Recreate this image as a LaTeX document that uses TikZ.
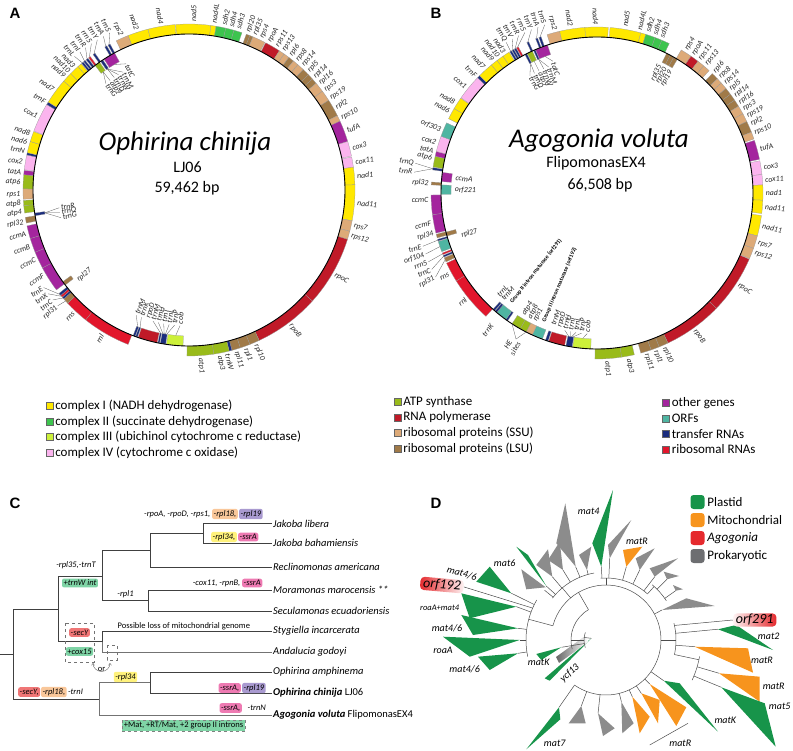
\documentclass[tikz,border=0pt]{standalone}
\usepackage{fontspec}
\setmainfont{Carlito}
\newfontfamily\panelfont{Liberation Sans}
\usetikzlibrary{positioning,arrows.meta}

% gene classes
\definecolor{cI}{HTML}{FFE800}
\definecolor{cII}{HTML}{3DC44E}
\definecolor{cIII}{HTML}{CCF03A}
\definecolor{cIV}{HTML}{FBB4EE}
\definecolor{atp}{HTML}{99BB1A}
\definecolor{rnap}{HTML}{C01A28}
\definecolor{ssu}{HTML}{DDAA78}
\definecolor{lsu}{HTML}{A07A48}
\definecolor{oth}{HTML}{A4259E}
\definecolor{orf}{HTML}{4FB5A2}
\definecolor{trna}{HTML}{1B2D7E}
\definecolor{rrna}{HTML}{E2162C}
% tree tags
\definecolor{tOrange}{HTML}{F9C79A}
\definecolor{tPurple}{HTML}{A99AD0}
\definecolor{tYellow}{HTML}{FFF27C}
\definecolor{tPink}{HTML}{EE7AB2}
\definecolor{tGreen}{HTML}{7FD4A6}
\definecolor{tRed}{HTML}{F07676}
% maturase tree
\definecolor{dGreen}{HTML}{17944A}
\definecolor{dOrange}{HTML}{F7941D}
\definecolor{dRed}{HTML}{E52A2E}
\definecolor{dGray}{HTML}{8C8C8C}
\definecolor{dGrayL}{HTML}{6D6E71}

\newcounter{glc}
\newcommand{\Rin}{146}
\newcommand{\Rmid}{156}
\newcommand{\Rout}{166}
% gene block outside / inside the ring
\newcommand{\gout}[3]{\path[genebox, fill=#3] (#1:\Rmid pt) arc[start angle=#1, end angle=#2, radius=\Rmid pt]
  -- (#2:\Rout pt) arc[start angle=#2, end angle=#1, radius=\Rout pt] -- cycle;}
\newcommand{\gin}[3]{\path[genebox, fill=#3] (#1:\Rin pt) arc[start angle=#1, end angle=#2, radius=\Rin pt]
  -- (#2:\Rmid pt) arc[start angle=#2, end angle=#1, radius=\Rmid pt] -- cycle;}
% radial labels: angle, radius, text
\newcommand{\lout}[3]{\stepcounter{glc}%
  \pgfmathtruncatemacro\lflip{cos(#1)<0}%
  \ifnum\lflip=1
    \node[genelabel, anchor=east, rotate=#1-180] (gl\arabic{glc}) at (#1:#2pt) {#3};%
  \else
    \node[genelabel, anchor=west, rotate=#1] (gl\arabic{glc}) at (#1:#2pt) {#3};%
  \fi}
\newcommand{\lin}[3]{\stepcounter{glc}%
  \pgfmathtruncatemacro\lflip{cos(#1)<0}%
  \ifnum\lflip=1
    \node[genelabel, anchor=west, rotate=#1-180] (gl\arabic{glc}) at (#1:#2pt) {#3};%
  \else
    \node[genelabel, anchor=east, rotate=#1] (gl\arabic{glc}) at (#1:#2pt) {#3};%
  \fi}
\newcommand{\lead}[4]{\draw[leader] (#1:#2pt) -- (#3:#4pt);}

\tikzset{
  genebox/.style={draw=black!40, line width=0.25pt},
  ring/.style={line width=0.9pt},
  genelabel/.style={font=\fontsize{7.8}{8}\selectfont\itshape, inner sep=0.6pt, text=black!85},
  leader/.style={draw=black!65, line width=0.3pt},
  title/.style={font=\fontsize{27}{30}\selectfont\itshape},
  subtitle/.style={font=\fontsize{16}{18}\selectfont},
  panel/.style={font=\panelfont\bfseries\fontsize{15}{16}\selectfont},
  legsq/.style={draw=black!60, line width=0.3pt, minimum size=7pt, inner sep=0pt},
  legtext/.style={font=\fontsize{13}{14}\selectfont, inner sep=1pt, anchor=west},
  branch/.style={draw=black!75, line width=0.6pt},
  taxon/.style={anchor=west, font=\fontsize{10.5}{12}\selectfont\itshape, inner sep=1pt},
  annot/.style={font=\fontsize{8.5}{10}\selectfont\itshape, inner sep=0.5pt},
  plainnote/.style={font=\fontsize{8.5}{10}\selectfont, inner sep=0.5pt},
  tagbox/.style={annot, rounded corners=2pt, inner xsep=1.5pt, inner ysep=1.5pt},
  orarc/.style={draw=black!60, line width=0.4pt, arrows={Straight Barb[length=2pt,width=3pt]-Straight Barb[length=2pt,width=3pt]}},
  grptext/.style={font=\fontsize{5.8}{6}\selectfont\bfseries, inner sep=0.5pt},
  dtree/.style={color=black!70, line width=0.5pt},
  dlab/.style={font=\fontsize{10}{12}\selectfont\itshape, inner sep=1pt},
  orfbox/.style={font=\fontsize{14}{15}\selectfont\itshape, rounded corners=4pt, inner xsep=3pt, inner ysep=1pt},
  dkey/.style={minimum size=14pt, rounded corners=3pt, inner sep=0pt},
  dkeytext/.style={font=\fontsize{13}{14}\selectfont, inner sep=1pt, anchor=west},
}

\begin{document}
\begin{tikzpicture}[x=1pt, y=1pt]
\useasboundingbox (0,0) rectangle (793,-751);

\node[panel] (pA) at (15,-13) {A};
\node[panel] (pB) at (436,-13) {B};
\node[panel] (pC) at (15,-503) {C};
\node[panel] (pD) at (436,-503) {D};

% ---------- A: Ophirina chinija ----------
\begin{scope}[shift={(189,-190)}]
  \gout{120.5}{119.7}{trna} \gout{119.2}{118.4}{trna}
  \gout{116}{111.5}{ssu} \gout{111.5}{104.3}{cI} \gout{104.3}{94.8}{cI}
  \gout{94.6}{82.4}{cI} \gout{82.4}{80.6}{cI}
  \gout{80.6}{77.2}{cII} \gout{77.2}{74.3}{cII} \gout{74.3}{71.4}{cII}
  \gout{69.8}{68.5}{lsu} \gout{68.5}{67.3}{lsu} \gout{67.3}{62.8}{ssu}
  \gout{62.5}{57}{rnap}
  \gout{57}{55}{ssu} \gout{55}{53}{ssu} \gout{53}{51}{lsu} \gout{51}{49}{ssu}
  \gout{49}{46.5}{ssu} \gout{46.5}{44}{lsu} \gout{44}{42}{lsu} \gout{42}{40}{lsu}
  \gout{40}{36.5}{ssu} \gout{36.5}{32.7}{ssu} \gout{32.7}{26.6}{lsu} \gout{26.6}{24.5}{ssu}
  \gout{24.5}{17}{oth} \gout{17}{11.8}{cIV} \gout{11.5}{7.9}{cIV}
  \gout{7.9}{1.8}{cI} \gout{1.8}{-10.7}{cI}
  \gout{-10.7}{-14.4}{ssu} \gout{-14.4}{-17.3}{ssu}
  \gout{-17.3}{-42}{rnap} \gout{-42}{-65}{rnap}
  \gout{-65}{-68.5}{lsu} \gout{-68.5}{-72}{lsu} \gout{-72}{-75}{lsu}
  \gout{-75}{-76}{trna} \gout{-76}{-81.4}{atp} \gout{-81.4}{-90.7}{atp}
  \gin{-92.2}{-98.3}{cIII} \gin{-98.6}{-100.6}{trna} \gin{-100.9}{-101.5}{trna}
  \gin{-101.8}{-109}{rnap} \gin{-109.3}{-110}{trna} \gin{-110.2}{-111}{trna}
  \gout{-111.5}{-128.5}{rrna} \gout{-128.5}{-137}{rrna}
  \gout{-137}{-139}{lsu} \gout{-139}{-139.8}{trna} \gout{-139.8}{-140.6}{rrna} \gout{-140.6}{-141.5}{trna}
  \gin{-142.5}{-144}{lsu}
  \gout{-143}{-152}{oth} \gout{-152}{-158}{oth} \gout{-158}{-163}{oth} \gout{-163}{-167.5}{oth}
  \gout{-168.5}{-170.5}{lsu} \gin{-170.5}{-171.5}{trna}
  \gout{-172}{-174.6}{atp} \gout{-174.6}{-176.4}{atp} \gout{-176.8}{-180.4}{ssu}
  \gout{-180.4}{-185.3}{atp} \gout{-185.3}{-186.8}{oth} \gout{-187}{-192.2}{cIV}
  \gout{-192.2}{-193}{trna} \gout{-193}{-197}{cI} \gout{-197}{-200.6}{cI}
  \gout{-200.8}{-211}{cIV} \gout{-211}{-212}{trna}
  \gout{148}{139}{cI} \gout{139}{135.5}{cI} \gout{135.5}{132}{cI} \gout{132}{130.5}{cI}
  \gout{130.3}{129.6}{trna} \gout{129.4}{128.7}{trna} \gout{128.3}{127.5}{trna}
  \gout{127.2}{126.5}{rrna} \gout{125.3}{124.5}{trna}
  \gin{127}{125}{atp} \gin{124.5}{123.5}{trna} \gin{123}{118.5}{oth}
  \draw[ring] (0,0) circle[radius=\Rmid pt];
  % labels round the top and the right
  \lout{137.5}{168}{nad9} \lout{135.2}{168}{nad10} \lout{132.9}{168}{nad3}
  \lead{130}{166}{130.6}{176} \lout{130.6}{177}{trnL}
  \lead{129}{166}{128.3}{176} \lout{128.3}{177}{trnI}
  \lead{127.9}{166}{126}{176} \lout{126}{177}{trnR}
  \lead{126.9}{166}{123.7}{176} \lout{123.7}{177}{rrn5}
  \lead{124.9}{166}{121.4}{176} \lout{121.4}{177}{trnY}
  \lead{120.1}{166}{119.1}{176} \lout{119.1}{177}{trnA}
  \lead{118.8}{166}{116.8}{176} \lout{116.8}{177}{trnS}
  \lout{113.8}{168}{rps2} \lout{108}{168}{nad2} \lout{99.5}{168}{nad4} \lout{88.5}{168}{nad5}
  \lout{81.5}{168}{nad4L} \lout{78}{168}{sdh2} \lout{75.5}{168}{sdh4} \lout{73}{168}{sdh3}
  \lout{69.5}{168}{rpl20} \lout{67}{168}{rpl35} \lout{64.5}{168}{rps4} \lout{61.5}{168}{rpoA}
  \lout{58.5}{168}{rps11} \lout{55.8}{168}{rps13} \lout{53}{168}{rpl6} \lout{50.2}{168}{rps8}
  \lout{47.5}{168}{rps14} \lout{44.8}{168}{rpl5} \lout{42}{168}{rpl14} \lout{39.3}{168}{rpl16}
  \lout{36.3}{168}{rps3} \lout{33}{168}{rps19} \lout{29.3}{168}{rpl2} \lout{25.3}{168}{rps10}
  \lout{20.5}{168}{tufA} \lout{14.4}{168}{cox3} \lout{9.5}{168}{cox11} \lout{4.8}{168}{nad1}
  \lout{-4.5}{168}{nad11} \lout{-12.3}{168}{rps7} \lout{-15.8}{168}{rps12}
  \lout{-30}{168}{rpoC} \lout{-53}{168}{rpoB}
  \lout{-66.5}{168}{rpl10} \lout{-70.2}{168}{rpl1} \lout{-73.5}{168}{rpl11} \lout{-76.8}{168}{trnW}
  \lout{-79.5}{168}{atp3} \lout{-86}{168}{atp1}
  % labels round the bottom and the left
  \lout{-121}{168}{rnl} \lout{-133}{168}{rns}
  \lead{-138}{166}{-138.6}{175} \lout{-138.6}{176}{rpl31}
  \lead{-139.4}{166}{-141.1}{175} \lout{-141.1}{176}{trnC}
  \lead{-140.2}{166}{-143.6}{175} \lout{-143.6}{176}{trnX}
  \lead{-141}{166}{-146.1}{175} \lout{-146.1}{176}{trnE}
  \lout{-149.5}{168}{ccmF} \lout{-155.5}{168}{ccmC} \lout{-160.5}{168}{ccmB} \lout{-165}{168}{ccmA}
  \lout{-169}{168}{rpl32} \lout{-172.3}{168}{atp4} \lout{-175.4}{168}{atp8} \lout{-178.5}{168}{rps1}
  \lout{-182.6}{168}{atp6} \lout{-186}{168}{tatA} \lout{-189.5}{168}{cox2} \lout{-193.2}{168}{trnN}
  \lout{-196.4}{168}{nad6} \lout{-199.6}{168}{nad8} \lout{-206}{168}{cox1} \lout{-211.5}{168}{trnF}
  \lout{-216.5}{168}{nad7}
  % labels inside the ring
  \lead{-95.2}{146}{-93.8}{136} \lin{-93.8}{135}{cob}
  \lead{-98.8}{146}{-96.1}{136} \lin{-96.1}{135}{trnP}
  \lead{-99.3}{146}{-98.4}{136} \lin{-98.4}{135}{trnL}
  \lead{-99.8}{146}{-100.7}{136} \lin{-100.7}{135}{trnT}
  \lead{-100.3}{146}{-103}{136} \lin{-103}{135}{trnH}
  \lead{-101.2}{146}{-105.3}{136} \lin{-105.3}{135}{trnM}
  \lin{-107.6}{135}{rpoD}
  \lead{-109.6}{146}{-110.5}{136} \lin{-110.5}{135}{trnK}
  \lead{-110.6}{146}{-112.8}{136} \lin{-112.8}{135}{trnM}
  \lin{-141}{144}{rpl27}
  \lead{-171}{146}{-172.2}{131} \lin{-172.2}{130}{trnR}
  \lead{-171}{146}{-170}{131} \lin{-170}{130}{trnQ}
  \lead{-171}{146}{-167.8}{131} \lin{-167.8}{130}{trnG}
  \lead{120.7}{146}{116.5}{141} \lin{116.5}{140}{tatC}
  \lead{124}{146}{119.2}{135} \lin{119.2}{134}{trnM}
  \lead{124}{146}{121.4}{135} \lin{121.4}{134}{trnW}
  \lead{124}{146}{123.6}{135} \lin{123.6}{134}{trnD}
  \lead{126}{146}{125.8}{135} \lin{125.8}{134}{atp9}
  \lead{126}{146}{128}{135} \lin{128}{134}{trnG}
  \node[title] (tA) at (-4,47) {Ophirina chinija};
  \node[subtitle] (sA) at (-1.5,23) {LJ06};
  \node[subtitle] (bA) at (-2,2) {59,462 bp};
\end{scope}

% ---------- B: Agogonia voluta ----------
\begin{scope}[shift={(597,-193)}]
  \gout{107.5}{103}{ssu} \gout{103}{94.2}{cI} \gout{94.2}{86.1}{cI}
  \gout{85.5}{74.7}{cI} \gout{74.7}{72.9}{cI}
  \gout{72.9}{69.5}{cII} \gout{69.5}{67}{cII} \gout{67}{64.2}{cII}
  \gin{63.5}{62}{lsu} \gin{62}{60.5}{lsu} \gin{60.5}{59}{lsu}
  \gout{59.5}{55.5}{ssu} \gout{55.5}{52.5}{rnap} \gout{52.5}{50}{ssu} \gout{50}{47.5}{ssu}
  \gout{46}{43.5}{lsu} \gout{43.5}{41.5}{ssu} \gout{41.5}{39}{ssu} \gout{39}{36.5}{lsu}
  \gout{36.5}{34}{lsu} \gout{34}{31.5}{lsu} \gout{31.5}{28.5}{ssu} \gout{28.5}{25.5}{ssu}
  \gout{25.5}{21.5}{lsu} \gout{21.5}{19}{ssu}
  \gout{18.5}{11.7}{oth} \gout{11.2}{6.4}{cIV} \gout{6.4}{2.8}{cIV}
  \gout{2.8}{-2.5}{cI} \gout{-2.5}{-7.1}{cI} \gout{-7.8}{-15}{cI}
  \gout{-15}{-19.5}{ssu} \gout{-19.5}{-23.3}{ssu}
  \gout{-23.5}{-44}{rnap} \gout{-44}{-64.7}{rnap}
  \gout{-64.7}{-68}{lsu} \gout{-68}{-71}{lsu} \gout{-71}{-74.7}{lsu}
  \gout{-77}{-81.5}{atp} \gout{-81.5}{-90.7}{atp}
  \gin{-92.3}{-99}{cIII} \gin{-99.2}{-101.5}{trna} \gin{-102}{-108}{rnap} \gin{-108.3}{-109.3}{trna}
  \gin{-110.5}{-114.5}{orf} \gin{-114.5}{-117}{ssu} \gin{-117}{-119.5}{atp} \gin{-119.5}{-123}{atp}
  \gin{-125}{-125.8}{trna} \gin{-125.8}{-130}{orf} \gin{-130}{-130.8}{trna} \gin{-131}{-131.8}{trna}
  \gout{-132}{-148}{rrna} \gout{-148}{-155}{rrna}
  \gout{-155.5}{-157}{lsu} \gout{-157.3}{-157.9}{trna} \gout{-158.2}{-158.8}{rrna}
  \gout{-159.3}{-163}{orf} \gout{-163.2}{-163.8}{trna} \gout{-164.3}{-165.6}{lsu}
  \gin{-164}{-165.5}{lsu}
  \gout{-166}{-172.5}{oth} \gout{-172.5}{-179.3}{oth}
  \gin{-179.5}{-183}{orf} \gout{-182.8}{-183.8}{lsu} \gin{-184.2}{-187.6}{oth}
  \gout{-188}{-188.8}{trna}
  \gout{-189}{-192.8}{atp} \gout{-192.8}{-194.5}{oth} \gout{-194.5}{-200}{cIV} \gout{-200}{-205}{orf}
  \gout{-206.6}{-210.6}{cI} \gout{-210.6}{-214.8}{cI} \gout{-215}{-224}{cIV} \gout{-224}{-225}{trna}
  \gout{135}{129.5}{cI} \gout{129.5}{127}{cI} \gout{127}{124.5}{cI} \gout{124.5}{122}{cI}
  \gout{121.7}{121}{trna} \gout{120.8}{120.1}{trna} \gout{119.9}{119.2}{trna} \gout{119}{118.3}{rrna}
  \gout{115}{114.3}{trna} \gout{111.7}{111}{trna} \gout{110.5}{109.7}{trna}
  \gin{117.5}{116.7}{trna} \gin{116.5}{114.5}{atp} \gin{114}{113.3}{trna} \gin{113.2}{108.5}{oth}
  \draw[ring] (0,0) circle[radius=\Rmid pt];
  % labels round the top and the right
  \lout{128.2}{168}{nad9} \lout{125.8}{168}{nad10} \lout{123.4}{168}{nad3}
  \lead{121.35}{166}{121.1}{176} \lout{121.1}{177}{trnQ}
  \lead{120.45}{166}{118.8}{176} \lout{118.8}{177}{trnV}
  \lead{119.55}{166}{116.5}{176} \lout{116.5}{177}{trnR}
  \lead{118.65}{166}{114.2}{176} \lout{114.2}{177}{rrn5}
  \lead{114.65}{166}{111.9}{176} \lout{111.9}{177}{trnY}
  \lead{111.35}{166}{109.6}{176} \lout{109.6}{177}{trnA}
  \lead{110.1}{166}{107.3}{176} \lout{107.3}{177}{trnS}
  \lout{104.6}{168}{rps2} \lout{99}{168}{nad2} \lout{90.5}{168}{nad4} \lout{80.5}{168}{nad5}
  \lout{75.5}{168}{nad4L} \lout{72.5}{168}{sdh2} \lout{70}{168}{sdh4} \lout{67.5}{168}{sdh3}
  \lout{58}{168}{rps4} \lout{55.2}{168}{rpoA} \lout{52.4}{168}{rps11} \lout{49.6}{168}{rps13}
  \lout{46}{168}{rpl6} \lout{43.3}{168}{rps8} \lout{40.6}{168}{rps14} \lout{37.9}{168}{rpl5}
  \lout{35.2}{168}{rpl14} \lout{32.5}{168}{rpl16} \lout{29.8}{168}{rps3} \lout{27.1}{168}{rps19}
  \lout{24.2}{168}{rpl2} \lout{20.8}{168}{rps10} \lout{15}{168}{tufA} \lout{8.8}{168}{cox3}
  \lout{4.4}{168}{cox11} \lout{0}{168}{nad1} \lout{-4.8}{168}{nad11} \lout{-11.4}{168}{nad11}
  \lout{-17.2}{168}{rps7} \lout{-20.6}{168}{rps12} \lout{-33}{168}{rpoC} \lout{-54.5}{168}{rpoB}
  \lout{-66.3}{168}{rpl10} \lout{-69.5}{168}{rpl1} \lout{-72.8}{168}{rpl11}
  \lout{-79.2}{168}{atp3} \lout{-86.5}{168}{atp1}
  % labels round the bottom and the left
  \lead{-117}{156}{-119}{167} \lead{-123}{156}{-119}{167}
  \lout{-119}{168}{\shortstack{HE\\sites}}
  \lout{-128.5}{168}{trnK}
  \lout{-141}{168}{rnl} \lout{-151.3}{168}{rns}
  \lead{-156.25}{166}{-152.5}{182} \lout{-152.5}{183}{rpl31}
  \lead{-157.6}{166}{-155.2}{182} \lout{-155.2}{183}{trnC}
  \lead{-158.5}{166}{-157.8}{182} \lout{-157.8}{183}{rrn5}
  \lead{-161.15}{166}{-160.4}{182} \lout{-160.4}{183}{orf104}
  \lead{-163.5}{166}{-163}{182} \lout{-163}{183}{trnE}
  \lout{-166}{168}{rpl34} \lout{-169.5}{168}{ccmF} \lout{-177.8}{168}{ccmC} \lout{-183.3}{168}{rpl32}
  \lead{-188.4}{166}{-186.5}{184} \lout{-186.5}{185}{trnR}
  \lead{-188.4}{166}{-189.3}{184} \lout{-189.3}{185}{trnQ}
  \lout{-192}{168}{atp6} \lout{-194.3}{168}{tatA} \lout{-197.4}{168}{cox2} \lout{-202}{168}{orf303}
  \lout{-209}{168}{nad6} \lout{-212.3}{168}{nad8} \lout{-219}{168}{cox1} \lout{-224}{168}{trnF}
  \lout{-228}{168}{nad7}
  % labels inside the ring
  \lin{63.8}{143}{rpl35} \lin{61.3}{143}{rpl20} \lin{58.8}{143}{rpl19}
  \lead{110.8}{146}{108.5}{139} \lin{108.5}{138}{tatC}
  \lead{113.6}{146}{111}{135} \lin{111}{134}{trnM}
  \lead{113.6}{146}{113.2}{135} \lin{113.2}{134}{trnW}
  \lead{115.5}{146}{115.4}{135} \lin{115.4}{134}{atp9}
  \lead{117.1}{146}{117.6}{135} \lin{117.6}{134}{trnD}
  \lead{117.1}{146}{119.8}{135} \lin{119.8}{134}{trnG}
  \lin{-181.3}{143}{orf221} \lin{-186}{143}{ccmA} \lin{-162.5}{143}{rpl27}
  \lead{-95.6}{146}{-94}{141} \lin{-94}{140}{cob}
  \lead{-99.5}{146}{-96.3}{141} \lin{-96.3}{140}{trnP}
  \lead{-100}{146}{-98.6}{141} \lin{-98.6}{140}{trnL}
  \lead{-100.6}{146}{-100.9}{141} \lin{-100.9}{140}{trnT}
  \lead{-101.2}{146}{-103.2}{141} \lin{-103.2}{140}{trnH}
  \lin{-105.6}{140}{rpoD} \lin{-108.3}{140}{trnM}
  \lin{-115.8}{143}{rps1} \lin{-118.3}{143}{atp8} \lin{-121}{143}{atp4}
  \lin{-131.6}{143}{trnM} \lin{-134}{143}{trnL}
  \node[grptext, anchor=west, rotate=67] (gii192) at (-112.5:140pt) {Group II intron maturase (orf192)};
  \node[grptext, anchor=west, rotate=52] (gii291) at (-128:140pt) {Group II intron maturase (orf291)};
  \node[title] (tB) at (2,53) {Agogonia voluta};
  \node[subtitle] (sB) at (-1,30) {FlipomonasEX4};
  \node[subtitle] (bB) at (3,8) {66,508 bp};
\end{scope}

% ---------- legend ----------
\node[legsq, fill=cI] (lg1) at (49.5,-406) {};
\node[legtext, right=1pt of lg1] (lt1) {complex I (NADH dehydrogenase)};
\node[legsq, fill=cII] (lg2) at (49.5,-421.5) {};
\node[legtext, right=1pt of lg2] (lt2) {complex II (succinate dehydrogenase)};
\node[legsq, fill=cIII] (lg3) at (49.5,-437) {};
\node[legtext, right=1pt of lg3] (lt3) {complex III (ubichinol cytochrome c reductase)};
\node[legsq, fill=cIV] (lg4) at (49.5,-452.5) {};
\node[legtext, right=1pt of lg4] (lt4) {complex IV (cytochrome c oxidase)};
\node[legsq, fill=atp] (lg5) at (397.5,-402) {};
\node[legtext, right=1pt of lg5] (lt5) {ATP synthase};
\node[legsq, fill=rnap] (lg6) at (397.5,-417.5) {};
\node[legtext, right=1pt of lg6] (lt6) {RNA polymerase};
\node[legsq, fill=ssu] (lg7) at (397.5,-433) {};
\node[legtext, right=1pt of lg7] (lt7) {ribosomal proteins (SSU)};
\node[legsq, fill=lsu] (lg8) at (397.5,-448.5) {};
\node[legtext, right=1pt of lg8] (lt8) {ribosomal proteins (LSU)};
\node[legsq, fill=oth] (lg9) at (666,-403) {};
\node[legtext, right=1pt of lg9] (lt9) {other genes};
\node[legsq, fill=orf] (lg10) at (666,-418.5) {};
\node[legtext, right=1pt of lg10] (lt10) {ORFs};
\node[legsq, fill=trna] (lg11) at (666,-434) {};
\node[legtext, right=1pt of lg11] (lt11) {transfer RNAs};
\node[legsq, fill=rrna] (lg12) at (666,-449.5) {};
\node[legtext, right=1pt of lg12] (lt12) {ribosomal RNAs};

% ---------- C: gene loss tree ----------
\node[taxon] (jl) at (272,-523.5) {Jakoba libera};
\node[taxon] (jb) at (272,-543) {Jakoba bahamiensis};
\node[taxon] (ra) at (272,-567) {Reclinomonas americana};
\node[taxon] (mm) at (272,-590) {Moramonas marocensis **};
\node[taxon] (se) at (272,-611) {Seculamonas ecuadoriensis};
\node[taxon] (st) at (272,-631) {Stygiella incarcerata};
\node[taxon] (ag) at (272,-652) {Andalucia godoyi};
\node[taxon] (oa) at (272,-672) {Ophirina amphinema};
\node[taxon] (oc) at (272,-693) {\textbf{Ophirina chinija} \textup{LJ06}};
\node[taxon] (av) at (272,-715) {\textbf{Agogonia voluta} \textup{FlipomonasEX4}};
\coordinate (stub) at (0,-654);
\coordinate (r0) at (13,-654);
\coordinate (n1) at (58,-609);
\coordinate (n2) at (102,-576);
\coordinate (n3) at (150,-550);
\coordinate (nj) at (203,-533.5);
\coordinate (n4) at (148,-600.5);
\coordinate (n5) at (102,-641.5);
\coordinate (n6) at (99,-699.5);
\coordinate (n7) at (150,-682.5);
\draw[branch] (stub) -- (r0);
\draw[branch] (r0) |- (n1);
\draw[branch] (r0) |- (n6);
\draw[branch] (n1) |- (n2);
\draw[branch] (n1) |- (n5);
\draw[branch] (n2) |- (n3);
\draw[branch] (n2) |- (n4);
\draw[branch] (n3) |- (nj);
\draw[branch] (n3) |- (ra.west);
\draw[branch] (nj) |- (jl.west);
\draw[branch] (nj) |- (jb.west);
\draw[branch] (n4) |- (mm.west);
\draw[branch] (n4) |- (se.west);
\draw[branch] (n5) |- (st.west);
\draw[branch, draw=black!55] (n5) |- (ag.west);
\draw[branch, draw=black!55] (n6) |- (n7);
\draw[branch, draw=black!55] (n6) |- (av.west);
\draw[branch] (n7) |- (oa.west);
\draw[branch] (n7) |- (oc.west);
% gains and losses on the branches
\node[annot, anchor=east] (c1) at (211,-514) {-rpoA, -rpoD, -rps1,};
\node[tagbox, fill=tOrange, right=1pt of c1] (c2) {-rpl18,};
\node[tagbox, fill=tPurple, right=1pt of c2] (c3) {-rpl19};
\node[tagbox, fill=tYellow, anchor=east] (c4) at (237,-537) {-rpl34,};
\node[tagbox, fill=tPink, right=1pt of c4] (c5) {-ssrA};
\node[annot] (c6) at (76,-565) {-rpl35,-trnT};
\node[tagbox, fill=tGreen] (c7) at (80,-583) {+trnW int};
\node[annot] (c8) at (125.5,-594) {-rpl1};
\node[annot, anchor=east] (c9) at (241,-583) {-cox11, -rpnB,};
\node[tagbox, fill=tPink, right=1pt of c9] (c10) {-ssrA};
\draw[draw=black!55, dashed, line width=0.4pt] (65,-623) rectangle (94,-662);
\node[tagbox, fill=tRed] (c11) at (79.5,-632.5) {-secY};
\node[tagbox, fill=tGreen] (c12) at (79.5,-651.5) {+cox15};
\draw[draw=black!55, dashed, line width=0.4pt] (107,-645) rectangle (117,-660);
\node[plainnote, anchor=west] (c13) at (117,-626) {Possible loss of mitochondrial genome};
\node[plainnote] (c14) at (101.5,-669) {or};
\draw[orarc] (93,-663) arc[start angle=180, end angle=360, radius=8.5pt];
\node[tagbox, fill=tYellow] (c15) at (125.5,-677) {-rpl34};
\node[tagbox, fill=tRed, anchor=west] (c16) at (18,-692) {-secY,};
\node[tagbox, fill=tOrange, right=0.5pt of c16] (c17) {-rpl18,};
\node[annot, right=0.5pt of c17] (c18) {-trnI};
\node[tagbox, fill=tPink, anchor=east] (c19) at (241,-688) {-ssrA,};
\node[tagbox, fill=tPurple, right=1pt of c19] (c20) {-rpl19};
\node[tagbox, fill=tPink, anchor=east] (c21) at (242,-708) {-ssrA,};
\node[annot, anchor=west] (c22) at (247,-708) {-trnN};
\node[plainnote, fill=tGreen, draw=black!50, dashed, inner xsep=2pt, inner ysep=2pt] (c23) at (183.5,-725.5) {+Mat, +RT/Mat, +2 group II introns};

% ---------- D: maturase tree ----------
\fill[dGreen] (476.3,-581.7) -- (489.7,-566.7) -- (511.3,-593.3) -- cycle;
\fill[dGreen] (461.3,-593.3) -- (469.7,-618.3) -- (516.3,-606.7) -- cycle;
\fill[dGreen] (461.3,-615) -- (473,-635) -- (518,-628.3) -- cycle;
\fill[dGreen] (443,-636.7) -- (469.7,-656.7) -- (519.7,-640) -- cycle;
\fill[dGreen] (478,-656.7) -- (489.7,-670) -- (518,-653.3) -- cycle;
\fill[dGreen] (536.3,-654) -- (541.3,-660) -- (561.3,-647.3) -- cycle;
\fill[dGreen] (544.7,-678.3) -- (549.7,-680.7) -- (591.3,-638.3) -- cycle;
\shade[left color=black!60, right color=white] (556,-657) -- (585,-636) -- (588,-642) -- (559,-663) -- cycle;
\fill[dGreen] (516.3,-546.7) -- (528,-555) -- (546.3,-586) -- cycle;
\fill[dGray] (521.3,-569.3) -- (526.3,-589.3) -- (545.7,-587.3) -- cycle;
\fill[dGray] (536.3,-565) -- (548,-549.3) -- (552.3,-576.7) -- cycle;
\fill[dGray] (548,-560) -- (559.7,-541.7) -- (563,-570) -- cycle;
\fill[dGray] (556.3,-543.3) -- (565.3,-503.3) -- (575.7,-566.7) -- cycle;
\fill[dGray] (579,-555) -- (591.3,-546.7) -- (587,-570) -- cycle;
\fill[dGreen] (592.3,-543.3) -- (613,-490) -- (601.3,-566.7) -- cycle;
\fill[dGray] (608,-545) -- (631.3,-520) -- (609.7,-558.3) -- cycle;
\fill[dOrange] (623,-550) -- (642.3,-546.7) -- (626.3,-566.7) -- cycle;
\fill[dGray] (635.7,-558.3) -- (654.7,-548.3) -- (639.7,-570) -- cycle;
\fill[dGray] (649.7,-568.3) -- (678,-558.3) -- (654.7,-576.7) -- cycle;
\fill[dGray] (663.7,-571.7) -- (679,-576) -- (667,-579.3) -- cycle;
\fill[dGray] (673,-585) -- (683,-589.3) -- (675.7,-590.7) -- cycle;
\fill[dGray] (662,-610) -- (686.3,-598.3) -- (714.7,-606) -- cycle;
\fill[dGreen] (718,-629.3) -- (736.3,-625) -- (773,-650) -- cycle;
\fill[dOrange] (694.7,-646.7) -- (748,-648.3) -- (753,-672.7) -- cycle;
\fill[dOrange] (719,-673.3) -- (759.7,-676.7) -- (759.7,-701.7) -- cycle;
\fill[dGreen] (721.3,-687.3) -- (764.7,-703.3) -- (775.7,-746.7) -- cycle;
\fill[dGreen] (663.7,-680.7) -- (679.7,-683.3) -- (718,-731.7) -- cycle;
\fill[dOrange] (649.7,-684) -- (686.3,-707.3) -- (676.3,-726) -- cycle;
\fill[dOrange] (641.3,-693.3) -- (659.7,-700) -- (658,-723.3) -- cycle;
\fill[dOrange] (632.3,-696.7) -- (649.7,-716.7) -- (639.7,-733.3) -- cycle;
\fill[dGray] (621.3,-701.7) -- (633.7,-723.3) -- (622.3,-733.3) -- cycle;
\fill[dGray] (598,-713.3) -- (614.7,-728.3) -- (603,-736) -- cycle;
\fill[dGray] (581.3,-706) -- (585.7,-723.3) -- (568.7,-723.3) -- cycle;
\fill[dGreen] (559,-707.3) -- (560.3,-719.3) -- (526.3,-749.3) -- cycle;
% clade labels
\node[dlab] (dm4) at (588.7,-511.7) {mat4};
\node[dlab] (dmr1) at (637,-541.7) {matR};
\node[dlab] (dm6) at (504.7,-563.3) {mat6};
\node[dlab, rotate=-15] (dm46a) at (462,-573.3) {mat4/6};
\node[orfbox, left color=dRed, right color=dRed!5, rotate=-5] (o192) at (442,-585) {orf192};
\node[dlab, font=\fontsize{8.5}{10}\selectfont\itshape] (dra4) at (439.7,-608.3) {roaA+mat4};
\node[dlab] (dm46b) at (447,-628.3) {mat4/6};
\node[dlab] (dra) at (443,-650.7) {roaA};
\node[dlab] (dm46c) at (464.7,-669.3) {mat4/6};
\node[dlab] (dmk1) at (538.7,-662.3) {matK};
\node[dlab, rotate=42] (dycf) at (569.7,-673.3) {ycf13};
\node[orfbox, left color=dRed!5, right color=dRed] (o291) at (754.7,-620) {orf291};
\node[dlab] (dm2) at (768.7,-636.7) {mat2};
\node[dlab] (dmr2) at (762,-660) {matR};
\node[dlab] (dmr3) at (773.7,-686.7) {matR};
\node[dlab] (dm5) at (779.7,-706.7) {mat5};
\node[dlab] (dmk2) at (725.3,-720) {matK};
\node[dlab] (dmr4) at (680.3,-743.3) {matR};
\node[dlab] (dm7) at (554.7,-743.3) {mat7};
\draw[dtree] (649.7,-745) -- (688,-723.3);
% backbone
\begin{scope}[shift={(606,-640)}, dtree]
  \draw (173.4:14.8pt) -- (173.4:22pt);
  \draw (160:22pt) arc[start angle=160, end angle=200, radius=22pt];
  \draw (189.3:22pt) -- (189.3:45pt);
  \draw (180:22pt) -- (180:35pt);
  \draw (120:35pt) arc[start angle=120, end angle=195, radius=35pt];
  \draw (120:35pt) -- (120:55pt);
  \draw (165:55pt) arc[start angle=165, end angle=-125, radius=55pt];
  % left clades
  \draw (165:55pt) -- (165:80pt);
  \draw (150:80pt) arc[start angle=150, end angle=192, radius=80pt];
  \draw (153.7:80pt) -- (153.7:105.6pt);
  \draw (159.6:80pt) -- (159.6:95.7pt);
  \draw (172.4:80pt) -- (172.4:88.8pt);
  \draw (180:80pt) -- (180:86.3pt);
  \draw (188.6:80pt) -- (188.6:89pt);
  \draw (156.5:80pt) -- (o192.east);
  % top clades
  \draw (130:55pt) -- (130:68pt);
  \draw (100:68pt) arc[start angle=100, end angle=142, radius=68pt];
  \draw (105.2:68pt) -- (105.2:72.5pt);
  \draw (112.5:68pt) -- (112.5:79.3pt);
  \draw (121.6:68pt) -- (121.6:82.2pt);
  \draw (130.3:68pt) -- (130.3:83pt);
  \draw (137.9:68pt) -- (137.9:80.5pt);
  \draw (141:68pt) -- (141:79pt);
  \draw (90:55pt) -- (90:62pt);
  \draw (48:62pt) arc[start angle=48, end angle=95, radius=62pt];
  \draw (93.7:62pt) -- (93.7:73.5pt);
  \draw (87.4:62pt) -- (87.4:81.8pt);
  \draw (74.5:62pt) -- (74.5:76pt);
  \draw (64.3:62pt) -- (64.3:77.7pt);
  \draw (52.4:62pt) -- (52.4:79.9pt);
  \draw (48:62pt) -- (48:72pt);
  \draw (33:72pt) arc[start angle=33, end angle=50, radius=72pt];
  \draw (44.9:72pt) -- (44.9:86pt);
  \draw (35.3:72pt) -- (35.3:85.4pt);
  \draw (28.2:55pt) -- (28.2:63.5pt);
  % right clades
  \draw (0:55pt) -- (0:70pt);
  \draw (-12:70pt) arc[start angle=-12, end angle=14, radius=70pt];
  \draw (12:70pt) -- (o291.west);
  \draw (5.5:70pt) -- (5.5:112.5pt);
  \draw (-4.3:70pt) -- (-4.3:89pt);
  \draw (-12:70pt) -- (-12:95pt);
  \draw (-25:95pt) arc[start angle=-25, end angle=-10, radius=95pt];
  \draw (-16.4:95pt) -- (-16.4:117.8pt);
  \draw (-22.3:95pt) -- (-22.3:124.6pt);
  \draw (-35.2:55pt) -- (-35.2:70.6pt);
  % bottom clades
  \draw (-45.2:55pt) -- (-45.2:62pt);
  \draw (-56.5:55pt) -- (-56.5:64pt);
  \draw (-65.1:55pt) -- (-65.1:62.5pt);
  \draw (-76:55pt) -- (-76:63.6pt);
  \draw (-96.2:55pt) -- (-96.2:73.7pt);
  \draw (-110.5:55pt) -- (-110.5:70.5pt);
  \draw (-124.9:55pt) -- (-124.9:82pt);
\end{scope}
% key
\node[dkey, fill=dGreen] (k1) at (697.5,-502) {};
\node[dkeytext, right=1.5pt of k1] (k1t) {Plastid};
\node[dkey, fill=dOrange] (k2) at (697.5,-520) {};
\node[dkeytext, right=1.5pt of k2] (k2t) {Mitochondrial};
\node[dkey, fill=dRed] (k3) at (697.5,-538) {};
\node[dkeytext, right=1.5pt of k3] (k3t) {\textit{Agogonia}};
\node[dkey, fill=dGrayL] (k4) at (697.5,-556) {};
\node[dkeytext, right=1.5pt of k4] (k4t) {Prokaryotic};
\end{tikzpicture}
\end{document}
